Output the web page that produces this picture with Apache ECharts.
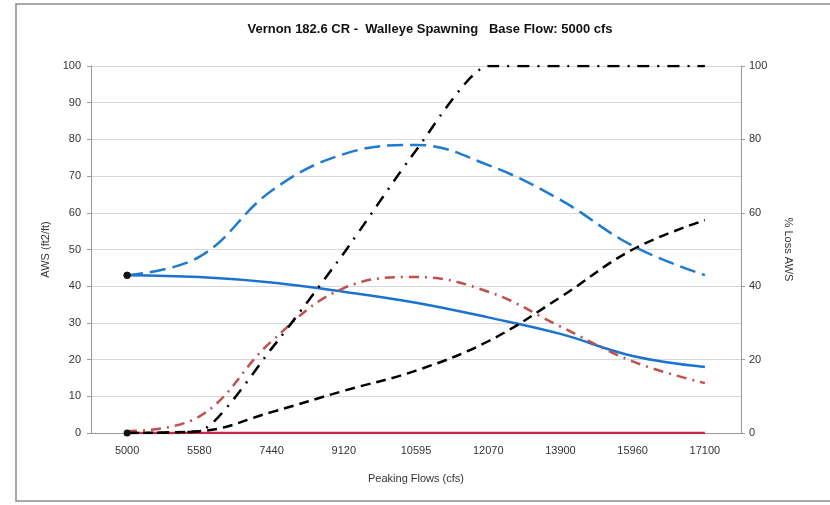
<!DOCTYPE html>
<html><head><meta charset="utf-8">
<script src="https://cdn.jsdelivr.net/npm/echarts@6/dist/echarts.min.js"></script>
<style>html,body{margin:0;padding:0;background:#fff}#c{width:830px;height:505px}</style>
</head><body><div id="c"></div>
<script>
const categories = ['5000','5580','7440','9120','10595','12070','13900','15960','17100'];
const awsPeak = [43, 48, 66, 76, 78.5, 73, 63.5, 51, 43];
const awsBase = [43, 42.5, 41, 38.5, 35.5, 31.5, 27, 21, 18];
const redDashDot = [0.5, 4.5, 25, 39.5, 42.5, 38.5, 29, 19.5, 13.6];
const lossDashDot = [0, 0.5, 23, 49, 77, 100, 100, 100, 100];
const lossDashed = [0, 0.5, 5.7, 11.5, 17, 25, 37, 50, 58];
const redZero = [0, 0, 0, 0, 0, 0, 0, 0, 0];
const leftTicks = {min: 0, max: 100, interval: 10};
const rightTicks = {min: 0, max: 100, interval: 20};

const font = 'Liberation Sans, Arial, sans-serif';
function firstMarker(arr){
  return arr.map((v,i)=> i===0 ? {value:v, symbol:'circle', symbolSize:7, itemStyle:{color:'#111'}} : v);
}
const chart = echarts.init(document.getElementById('c'), null, {renderer:'canvas'});
chart.setOption({
  animation:false,
  backgroundColor:'#fff',
  graphic:[{type:'rect', shape:{x:16,y:4,width:830,height:497}, style:{fill:'none', stroke:'#8a8a8a', lineWidth:1.5}, silent:true}],
  title:{text:'Vernon 182.6 CR -  Walleye Spawning   Base Flow: 5000 cfs', left:425, textAlign:'center', top:18,
    textStyle:{fontFamily:font, fontSize:13, fontWeight:'bold', color:'#111'}},
  grid:{left:91, right:89, top:66, bottom:72, containLabel:false},
  xAxis:{type:'category', data:categories, boundaryGap:true,
    name:'Peaking Flows (cfs)', nameLocation:'middle', nameGap:40,
    nameTextStyle:{fontFamily:font, fontSize:11, color:'#333'},
    axisLine:{lineStyle:{color:'#999'}}, axisTick:{show:false},
    axisLabel:{fontFamily:font, fontSize:11, color:'#333', margin:12}},
  yAxis:[
    {type:'value', min:leftTicks.min, max:leftTicks.max, interval:leftTicks.interval,
     name:'AWS (ft2/ft)', nameLocation:'middle', nameGap:40,
     nameTextStyle:{fontFamily:font, fontSize:11, color:'#333'},
     axisLine:{show:true, lineStyle:{color:'#999'}}, axisTick:{show:true, length:4, lineStyle:{color:'#999'}},
     axisLabel:{fontFamily:font, fontSize:11, color:'#333', margin:10},
     splitLine:{lineStyle:{color:'#d9d9d9'}}},
    {type:'value', min:rightTicks.min, max:rightTicks.max, interval:rightTicks.interval, position:'right',
     name:'% Loss AWS', nameLocation:'middle', nameGap:42, nameRotate:-90,
     nameTextStyle:{fontFamily:font, fontSize:11, color:'#333'},
     axisLine:{show:true, lineStyle:{color:'#999'}}, axisTick:{show:true, length:4, lineStyle:{color:'#999'}},
     axisLabel:{fontFamily:font, fontSize:11, color:'#333', margin:8},
     splitLine:{show:false}}
  ],
  series:[
    {type:'line', name:'redZero', data:redZero, yAxisIndex:0, symbol:'none', lineStyle:{color:'#c8284b', width:2.5}, z:2},
    {type:'line', name:'awsPeak', data:firstMarker(awsPeak), yAxisIndex:0, smooth:0.4, symbol:'none',
      lineStyle:{color:'#1f7bd0', width:2.5, type:[16,7]}, z:3},
    {type:'line', name:'awsBase', data:firstMarker(awsBase), yAxisIndex:0, smooth:0.4, symbol:'none',
      lineStyle:{color:'#1a73d1', width:2.5}, z:3},
    {type:'line', name:'redDashDot', data:redDashDot, yAxisIndex:1, smooth:0.4, symbol:'none',
      lineStyle:{color:'#c0504d', width:2.5, type:[10,6,2,6]}, z:3},
    {type:'line', name:'lossDashDot', data:lossDashDot, yAxisIndex:1, smooth:0.2, symbol:'none',
      lineStyle:{color:'#000', width:2.5, type:[12,8,2,8]}, z:4},
    {type:'line', name:'lossDashed', data:firstMarker(lossDashed), yAxisIndex:1, smooth:0.4, symbol:'none',
      lineStyle:{color:'#000', width:2.5, type:[10,6]}, z:4}
  ]
});
</script></body></html>
